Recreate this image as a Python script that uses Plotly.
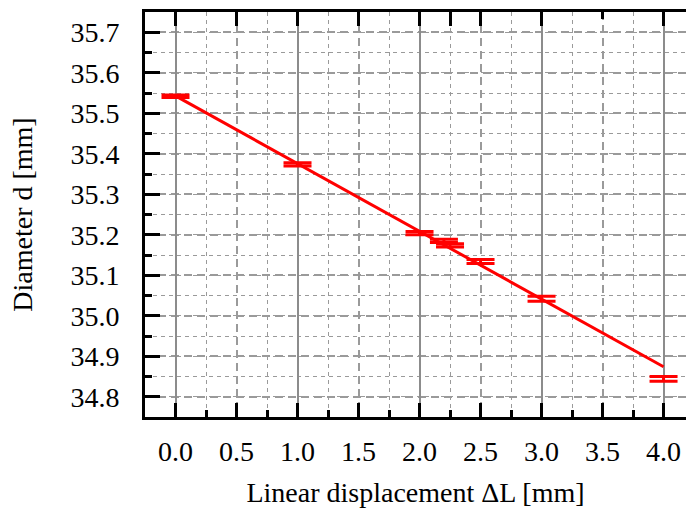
import plotly.graph_objects as go

# Measured diameter vs. linear displacement
displacement = [0.0, 1.0, 2.0, 2.2, 2.25, 2.5, 3.0, 4.0]
diameter = [35.542, 35.374, 35.204, 35.185, 35.174, 35.134, 35.042, 34.844]
diameter_err = [0.003, 0.004, 0.004, 0.004, 0.004, 0.005, 0.006, 0.006]

# Linear fit endpoints
fit_x = [0.0, 4.0]
fit_y = [35.543, 34.874]

# Axis ticks
x_top_ticks = [0.0, 0.5, 1.0, 1.5, 2.0, 2.25, 2.5, 3.0, 4.0]
x_top_minor = [3.5]
y_ticks = [34.8, 34.9, 35.0, 35.1, 35.2, 35.3, 35.4, 35.5, 35.6, 35.7]

FONT = "Liberation Serif, Times New Roman, serif"
RED = "#ff0000"
GRID = "#9a9a9a"
X_RANGE = [-0.25, 4.184]
Y_RANGE = [34.75, 35.75]

fig = go.Figure()

fig.add_trace(go.Scatter(
    x=fit_x, y=fit_y, mode="lines",
    line=dict(color=RED, width=3),
    showlegend=False, hoverinfo="skip",
))

fig.add_trace(go.Scatter(
    x=displacement, y=diameter, mode="markers",
    marker=dict(size=1, color="rgba(0,0,0,0)"),
    error_y=dict(type="data", array=diameter_err, visible=True,
                 color=RED, thickness=3, width=14),
    showlegend=False,
))

# Invisible traces to activate the top axis and the integer-grid axis
fig.add_trace(go.Scatter(x=[0], y=[35.0], xaxis="x2", mode="markers",
                         marker=dict(opacity=0), showlegend=False, hoverinfo="skip"))
fig.add_trace(go.Scatter(x=[0], y=[35.0], xaxis="x3", mode="markers",
                         marker=dict(opacity=0), showlegend=False, hoverinfo="skip"))

fig.update_layout(
    width=686, height=508,
    margin=dict(l=145, r=0, t=12, b=91),
    paper_bgcolor="white", plot_bgcolor="white",
    font=dict(family=FONT, size=28, color="black"),
    xaxis=dict(
        range=X_RANGE,
        tick0=0, dtick=0.5, tickformat=".1f",
        ticks="inside", ticklen=14, tickwidth=3, tickcolor="black",
        showline=True, linewidth=3, linecolor="black",
        showgrid=True, gridcolor=GRID, gridwidth=1.5, griddash="8px,5px",
        zeroline=False,
        ticklabelstandoff=7,
        minor=dict(dtick=0.25, ticks="inside", ticklen=7, tickwidth=3,
                   tickcolor="black", showgrid=True, gridcolor=GRID,
                   gridwidth=1.2, griddash="4px,4px"),
        title=dict(text="Linear displacement ΔL [mm]", standoff=20,
                   font=dict(size=28)),
    ),
    xaxis2=dict(
        range=X_RANGE, overlaying="x", side="top",
        tickvals=x_top_ticks, showticklabels=False,
        ticks="inside", ticklen=14, tickwidth=3, tickcolor="black",
        showline=True, linewidth=3, linecolor="black",
        showgrid=False, zeroline=False,
        minor=dict(tickvals=x_top_minor, ticks="inside", ticklen=7,
                   tickwidth=3, tickcolor="black"),
    ),
    xaxis3=dict(
        range=X_RANGE, overlaying="x", side="bottom",
        tick0=0, dtick=1, showticklabels=False, ticks="",
        showline=False, zeroline=False,
        showgrid=True, gridcolor="#8c8c8c", gridwidth=1.8,
    ),
    yaxis=dict(
        range=Y_RANGE,
        tickvals=y_ticks, tickformat=".1f",
        ticks="inside", ticklen=15, tickwidth=3, tickcolor="black",
        showline=True, linewidth=3, linecolor="black",
        showgrid=True, gridcolor=GRID, gridwidth=1.5, griddash="8px,5px",
        zeroline=False,
        ticklabelstandoff=17,
        minor=dict(dtick=0.05, tick0=34.75, ticks="inside", ticklen=7,
                   tickwidth=3, tickcolor="black", showgrid=True,
                   gridcolor=GRID, gridwidth=1.2, griddash="4px,4px"),
        title=dict(text="Diameter d [mm]", standoff=30, font=dict(size=28)),
    ),
)

fig.write_html("out.html")
